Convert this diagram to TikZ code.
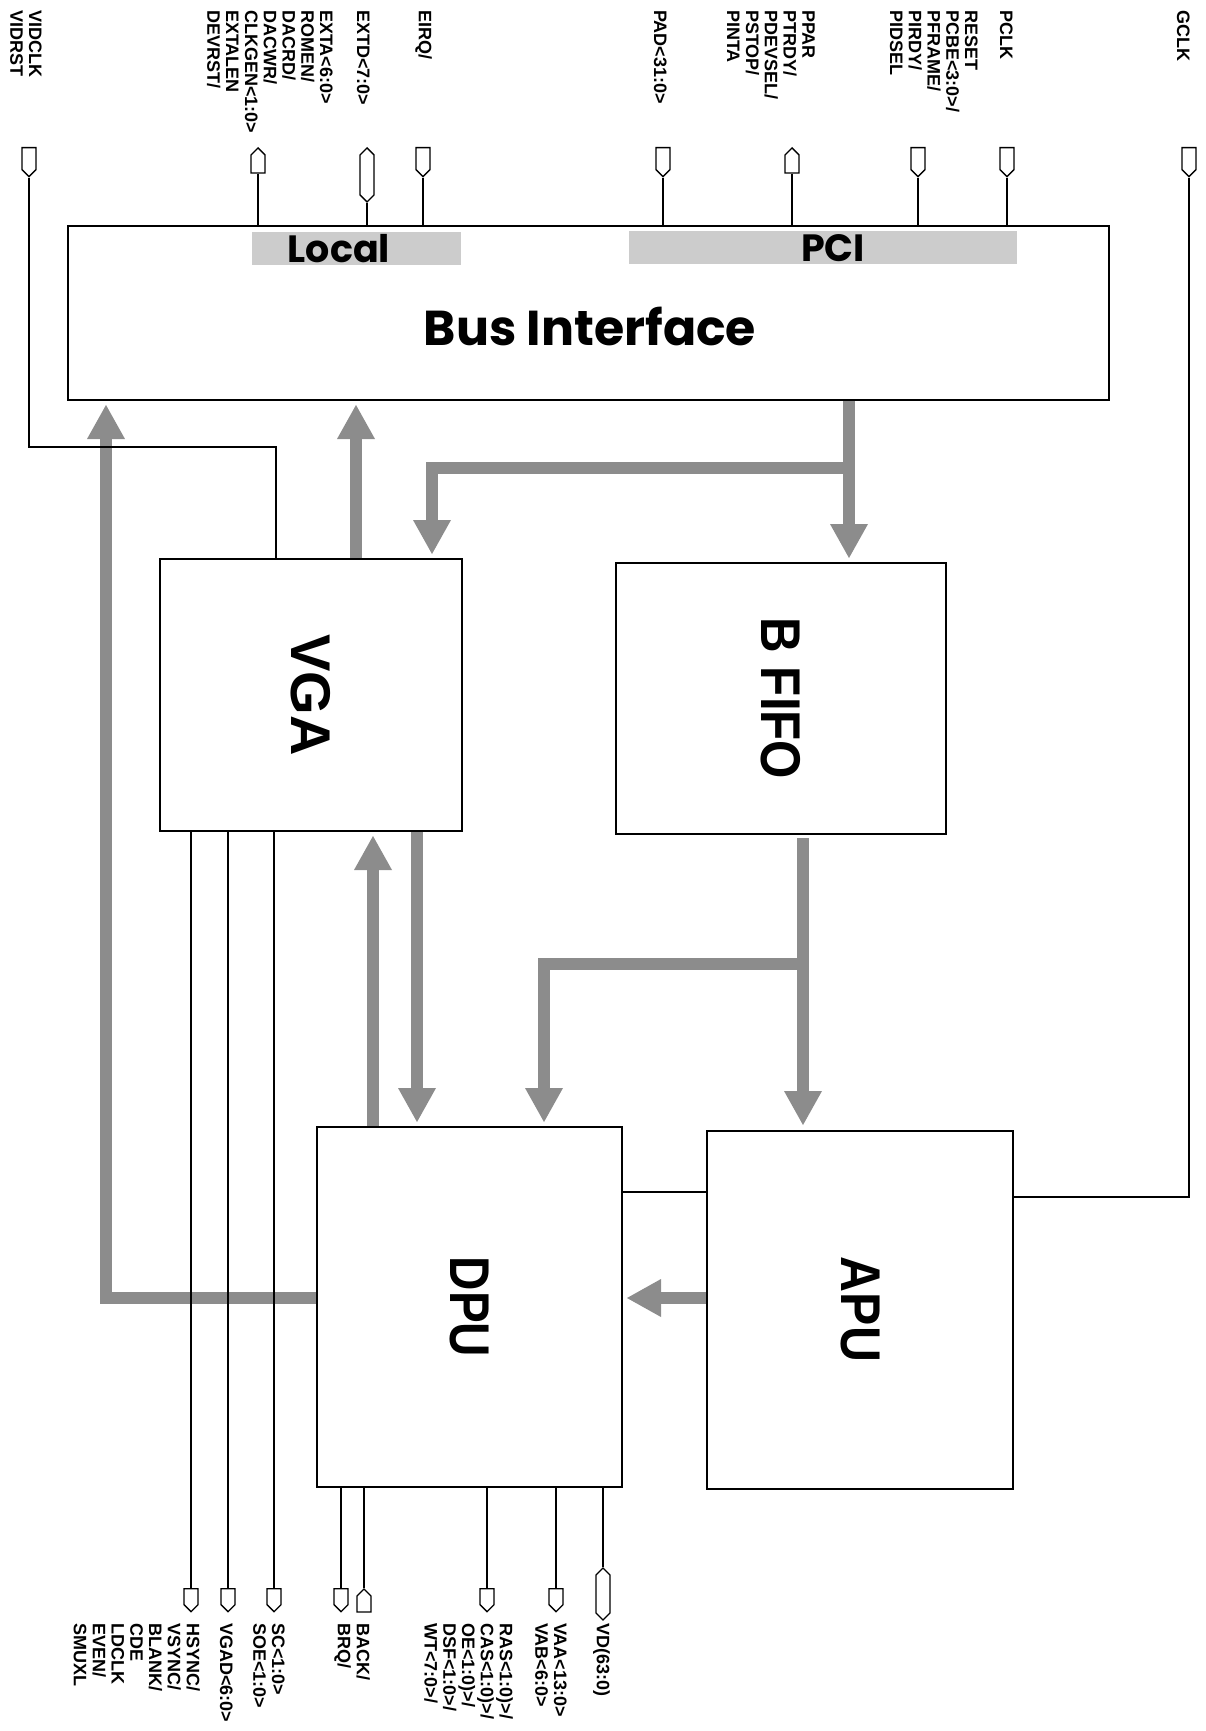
\documentclass[tikz,border=0pt]{standalone}
\usepackage{fontspec}
\setmainfont{Liberation Sans}
\newfontfamily\gothic{Poppins}
\usetikzlibrary{arrows.meta,shapes.symbols}

\tikzset{
    block/.style={draw, line width=2, fill=white, inner sep=0,
        font=\fontsize{56}{60}\selectfont\bfseries},
    shadebar/.style={fill=black!20, minimum height=33, inner sep=0},
    subtitle/.style={font=\gothic\fontsize{38}{40}\selectfont\bfseries, inner sep=0},
    bustitle/.style={font=\gothic\fontsize{49}{50}\selectfont\bfseries, inner sep=0},
    wire/.style={line width=1.3},
    busarrow/.style={line width=12, draw=black!45,
        -{Triangle[width=38pt,length=34pt,line width=0pt]}, shorten >=5pt},
    busline/.style={line width=12, draw=black!45},
    pinin/.style={signal, signal to=south, draw, line width=1.3, fill=white,
        inner sep=0, minimum width=14, minimum height=#1},
    pinout/.style={signal, signal to=north, draw, line width=1.3, fill=white,
        inner sep=0, minimum width=14, minimum height=#1},
    pinio/.style={signal, signal to=north and south, draw, line width=1.3, fill=white,
        inner sep=0, minimum width=14, minimum height=#1},
    pinlabel/.style={rotate=-90, anchor=north west, align=left, inner sep=0,
        font=\fontsize{18}{18.8}\selectfont\bfseries}
}
\newcommand{\blkname}[2]{\rotatebox{-90}{\scalebox{#1}[1]{#2}}}

\begin{document}
\begin{tikzpicture}[x=1pt,y=-1pt]
    \useasboundingbox (0,0) rectangle (1205,1731);

    % wide grey buses
    \coordinate (bsplit) at (849,468);
    \coordinate (fsplit) at (803,964);
    \draw[busline] (bsplit) -- (849,400);
    \draw[busarrow] (bsplit) -- (849,563);
    \draw[busarrow] (bsplit) -| (432,559);
    \draw[busarrow] (356,559) -- (356,400);
    \draw[busarrow] (317,1298) -| (106,400);
    \draw[busarrow] (373,1127) -- (373,831);
    \draw[busarrow] (417,831) -- (417,1127);
    \draw[busline] (fsplit) -- (803,838);
    \draw[busarrow] (fsplit) -- (803,1130);
    \draw[busarrow] (fsplit) -| (544,1127);
    \draw[busarrow] (707,1298) -- (622,1298);

    % blocks
    \node[block, minimum width=1041, minimum height=174] (bus) at (588.5,313) {};
    \node[shadebar, minimum width=209] (localbar) at (356,248.5) {};
    \node[shadebar, minimum width=388] (pcibar) at (823,247) {};
    \node[subtitle] (local) at (339,249) {Local};
    \node[subtitle] (pci) at (833,248) {PCI};
    \node[bustitle] (bustxt) at (590,326) {Bus Interface};
    \node[block, minimum width=302, minimum height=272] (vga) at (311,695)
        {\blkname{1}{VGA}};
    \node[block, minimum width=330, minimum height=271] (fifo) at (781,698.5)
        {\blkname{0.88}{B FIFO}};
    \node[block, minimum width=305, minimum height=360] (dpu) at (469.5,1307)
        {\blkname{0.85}{DPU}};
    \node[block, minimum width=306, minimum height=358] (apu) at (860,1309.5)
        {\blkname{0.89}{APU}};

    % top pins
    \foreach \n/\x in {vid/29, irq/423, pad/663, rst/918, pclk/1007, gclk/1189}
        \node[pinin=22, anchor=north] (p\n) at (\x,147) {};
    \foreach \n/\x in {exta/258, ppar/792}
        \node[pinout=18, anchor=north] (p\n) at (\x,147) {};
    \node[pinio=40, anchor=north] (pextd) at (367,147) {};
    \foreach \n in {exta,extd,irq,pad,ppar,rst,pclk}
        \draw[wire] (p\n.south) -- (p\n.south |- bus.north);
    \draw[wire] (pvid.south) |- (276,447) -- (vga.north -| 276,0);
    \draw[wire] (pgclk.south) |- (apu.east |- 0,1197);
    \draw[wire] (dpu.east |- 0,1192) -- (apu.west |- 0,1192);

    % bottom pins
    \foreach \n/\x in {hsync/191, vgad/228, sc/274, brq/341, ras/487, vaa/556}
        \node[pinin=16, anchor=north] (p\n) at (\x,1588) {};
    \node[pinout=16, anchor=north] (pback) at (364,1588) {};
    \node[pinio=38, anchor=north] (pvd) at (603,1567) {};
    \foreach \n in {hsync,vgad,sc}
        \draw[wire] (p\n.north |- vga.south) -- (p\n.north);
    \foreach \n in {brq,back,ras,vaa,vd}
        \draw[wire] (p\n.north |- dpu.south) -- (p\n.north);

    % signal names
    \node[pinlabel] (lvid) at (42,10) {VIDCLK\\VIDRST};
    \node[pinlabel] (lexta) at (333,10)
        {EXTA<6:0>\\ROMEN/\\DACRD/\\DACWR/\\CLKGEN<1:0>\\EXTALEN\\DEVRST/};
    \node[pinlabel] (lextd) at (370,10) {EXTD<7:0>};
    \node[pinlabel] (lirq) at (432,10) {EIRQ/};
    \node[pinlabel] (lpad) at (667,10) {PAD<31:0>};
    \node[pinlabel] (lppar) at (815,10) {PPAR\\PTRDY/\\PDEVSEL/\\PSTOP/\\PINTA};
    \node[pinlabel] (lrst) at (978,10) {RESET\\PCBE<3:0>/\\PFRAME/\\PIRDY/\\PIDSEL};
    \node[pinlabel] (lpclk) at (1013,10) {PCLK};
    \node[pinlabel] (lgclk) at (1190,10) {GCLK};
    \node[pinlabel] (lhsync) at (200,1623)
        {HSYNC/\\VSYNC/\\BLANK/\\CDE\\LDCLK\\EVEN/\\SMUXL};
    \node[pinlabel] (lvgad) at (233,1623) {VGAD<6:0>};
    \node[pinlabel] (lsc) at (285,1623) {SC<1:0>\\SOE<1:0>};
    \node[pinlabel] (lback) at (370,1623) {BACK/\\BRQ/};
    \node[pinlabel] (lras) at (513,1623)
        {RAS<1:0)>/\\CAS<1:0)>/\\OE<1:0)>/\\DSF<1:0>/\\WT<7:0>/};
    \node[pinlabel] (lvaa) at (567,1623) {VAA<13:0>\\VAB<6:0>};
    \node[pinlabel] (lvd) at (610,1623) {VD(63:0)};
\end{tikzpicture}
\end{document}
